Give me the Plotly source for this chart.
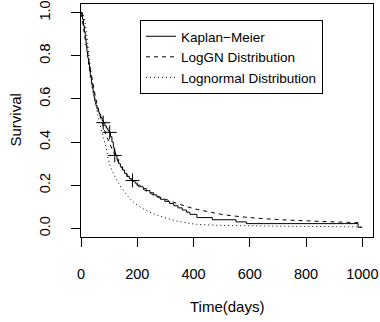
import plotly.graph_objects as go

# Kaplan-Meier step estimates
km_time = [0, 5, 9, 12, 15, 18, 21, 24, 27, 30, 33, 37, 40, 43, 46, 49, 53, 57, 61, 65,
           70, 75, 79, 85, 90, 95, 100, 105, 110, 115, 118, 122, 128, 134, 140, 148, 155,
           163, 172, 183, 192, 200, 210, 221, 232, 245, 258, 270, 282, 298, 315, 330, 345,
           360, 375, 387, 412, 467, 551, 588, 985, 1000]
km_surv = [1.0, 0.97, 0.94, 0.91, 0.88, 0.85, 0.82, 0.79, 0.76, 0.73, 0.70, 0.67, 0.65,
           0.63, 0.61, 0.59, 0.57, 0.555, 0.54, 0.53, 0.515, 0.50, 0.49, 0.475, 0.465,
           0.455, 0.445, 0.425, 0.40, 0.375, 0.355, 0.34, 0.32, 0.30, 0.285, 0.27, 0.255,
           0.24, 0.23, 0.222, 0.21, 0.20, 0.193, 0.185, 0.175, 0.165, 0.155, 0.145, 0.135,
           0.125, 0.115, 0.105, 0.095, 0.085, 0.075, 0.065, 0.050, 0.040, 0.030, 0.022,
           0.005, 0.005]

# censored observations
cens_time = [79, 102, 120, 183]
cens_surv = [0.49, 0.445, 0.338, 0.222]

# LogGN fitted survival
loggn_time = [0, 10, 20, 30, 40, 50, 60, 70, 80, 90, 100, 120, 140, 160, 180, 200, 250,
              300, 350, 400, 450, 500, 600, 700, 800, 900, 1000]
loggn_surv = [1.0, 0.92, 0.84, 0.76, 0.69, 0.62, 0.56, 0.51, 0.47, 0.43, 0.40, 0.34, 0.29,
              0.255, 0.225, 0.20, 0.16, 0.135, 0.112, 0.092, 0.078, 0.065, 0.050, 0.041,
              0.035, 0.030, 0.026]

# Lognormal fitted survival
lnorm_time = [0, 5, 10, 20, 30, 40, 50, 60, 70, 80, 90, 100, 126, 161, 190, 221, 250, 280,
              310, 340, 370, 410, 500, 600, 700, 800, 900, 1000]
lnorm_surv = [1.0, 0.998, 0.985, 0.90, 0.78, 0.68, 0.595, 0.525, 0.47, 0.42, 0.37, 0.305,
              0.227, 0.158, 0.118, 0.091, 0.072, 0.057, 0.045, 0.034, 0.027, 0.019, 0.014,
              0.012, 0.010, 0.009, 0.008, 0.007]

x_ticks = [0, 200, 400, 600, 800, 1000]
y_ticks = [0.0, 0.2, 0.4, 0.6, 0.8, 1.0]
y_labels = ["0.0", "0.2", "0.4", "0.6", "0.8", "1.0"]

FONT = "Liberation Sans, Arial, Helvetica, sans-serif"

fig = go.Figure()
fig.add_trace(go.Scatter(x=km_time, y=km_surv, mode="lines", line_shape="hv",
                         line=dict(color="black", width=1), name="Kaplan\u2212Meier"))
fig.add_trace(go.Scatter(x=loggn_time, y=loggn_surv, mode="lines", line_shape="spline",
                         line=dict(color="black", width=1, dash="4px,4px"),
                         name="LogGN Distribution"))
fig.add_trace(go.Scatter(x=lnorm_time, y=lnorm_surv, mode="lines", line_shape="spline",
                         line=dict(color="black", width=1, dash="1px,3px"),
                         name="Lognormal Distribution"))
fig.add_trace(go.Scatter(x=cens_time, y=cens_surv, mode="markers", showlegend=False,
                         marker=dict(symbol="cross-thin", size=10,
                                     line=dict(color="black", width=1))))

fig.update_layout(
    width=380, height=322,
    margin=dict(l=81, r=7, t=4, b=85),
    paper_bgcolor="white", plot_bgcolor="white",
    font=dict(family=FONT, size=14.5, color="black"),
    hovermode=False,
    showlegend=True,
    legend=dict(x=(140 - 81) / 292, y=(237 - 20) / 233, xanchor="left", yanchor="top",
                bordercolor="black", borderwidth=1, bgcolor="white",
                font=dict(family=FONT, size=13.5, color="black"),
                itemwidth=30, tracegroupgap=0),
    xaxis=dict(range=[0, 1038], tickvals=x_ticks, ticks="outside", ticklen=9,
               tickcolor="black", tickwidth=1, showline=True, linecolor="black",
               linewidth=1, mirror=True, showgrid=False, zeroline=False,
               ticklabelstandoff=15, automargin=False),
    yaxis=dict(range=[-0.04, 1.04], tickvals=y_ticks, ticktext=y_labels, ticks="outside",
               ticklen=9, tickcolor="black", tickwidth=1, showline=True,
               linecolor="black", linewidth=1, mirror=True, showgrid=False,
               zeroline=False, tickangle=-90, ticklabelstandoff=15, automargin=False),
    annotations=[
        dict(text="Time(days)", xref="paper", yref="paper", x=0.5, y=0,
             xanchor="center", yanchor="middle", yshift=-69, showarrow=False,
             font=dict(family=FONT, size=15, color="black")),
        dict(text="Survival", xref="paper", yref="paper", x=0, y=0.5,
             xanchor="center", yanchor="middle", xshift=-66, textangle=-90,
             showarrow=False, font=dict(family=FONT, size=15, color="black")),
    ],
)

fig.write_html("out.html", config={"displayModeBar": False, "staticPlot": True},
               post_script="document.body.style.margin='0';")
